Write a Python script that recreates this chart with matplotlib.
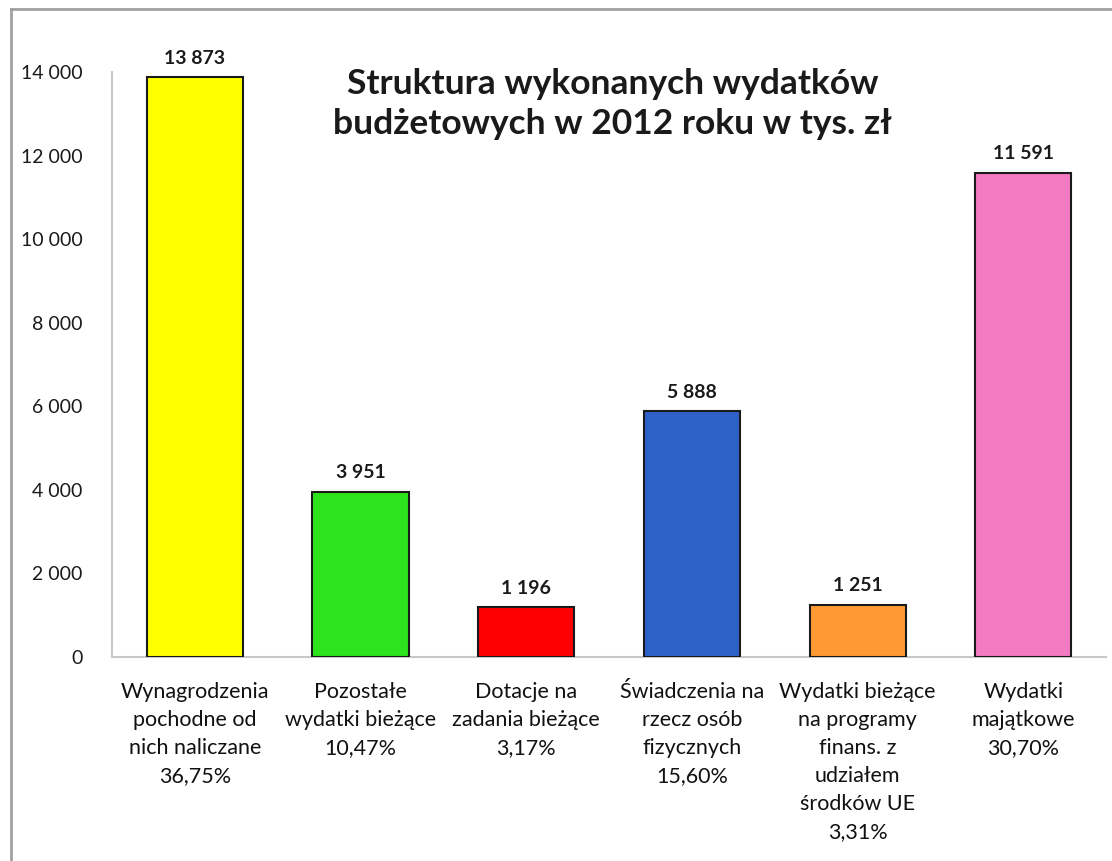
import numpy as np
import matplotlib.pyplot as plt
from matplotlib.lines import Line2D

plt.rcParams['font.family'] = ['Lato', 'DejaVu Sans']

categories = ['Wynagrodzenia\npochodne od\nnich naliczane\n36,75%',
              'Pozostałe\nwydatki bieżące\n10,47%',
              'Dotacje na\nzadania bieżące\n3,17%',
              'Świadczenia na\nrzecz osób\nfizycznych\n15,60%',
              'Wydatki bieżące\nna programy\nfinans. z\nudziałem\nśrodków UE\n3,31%',
              'Wydatki\nmajątkowe\n30,70%']
values = [13873, 3951, 1196, 5888, 1251, 11591]
colors = ['#FFFF00', '#2DE31B', '#FF0000', '#2F62C8', '#FF9A33', '#F47BC2']
yticks = [0, 2000, 4000, 6000, 8000, 10000, 12000, 14000]


def fmt(v):
    return '{:,}'.format(v).replace(',', ' ')


fig = plt.figure(figsize=(11.12, 8.61), dpi=100)
ax = fig.add_axes([0.1007, 0.2369, 0.894, 0.6794])

x = np.arange(len(values))
ax.bar(x, values, width=0.58, color=colors, edgecolor='#1a1a1a', linewidth=1.5, zorder=3)

for xi, v in zip(x, values):
    ax.text(xi, v + 250, fmt(v), ha='center', va='bottom', fontsize=14,
            fontweight='bold', color='#1a1a1a')

ax.set_xlim(-0.5, len(values) - 0.5)
ax.set_ylim(0, 14000)
ax.set_yticks(yticks)
ax.set_yticklabels([fmt(t) for t in yticks], fontsize=14, color='#1a1a1a')
ax.set_xticks(x)
ax.set_xticklabels(categories, fontsize=15.5, color='#111111', linespacing=1.5, va='top')
ax.tick_params(axis='both', length=0)
ax.tick_params(axis='y', pad=21)
ax.tick_params(axis='x', pad=18)

for s in ['top', 'right']:
    ax.spines[s].set_visible(False)
for s in ['left', 'bottom']:
    ax.spines[s].set_color('#C8C8C8')
    ax.spines[s].set_linewidth(1.5)

fig.text(0.551, 0.879, 'Struktura wykonanych wydatków\nbudżetowych w 2012 roku w tys. zł',
         ha='center', va='center', fontsize=25.5, fontweight='bold',
         linespacing=1.33, color='#1a1a1a')

# chart frame
fig.add_artist(Line2D([11 / 1112, 11 / 1112], [0, 1 - 9 / 861], transform=fig.transFigure,
                      color='#A0A0A0', linewidth=2))
fig.add_artist(Line2D([11 / 1112, 1], [1 - 9 / 861, 1 - 9 / 861], transform=fig.transFigure,
                      color='#A0A0A0', linewidth=2))

fig.savefig('out.png', dpi=100, facecolor='white')
